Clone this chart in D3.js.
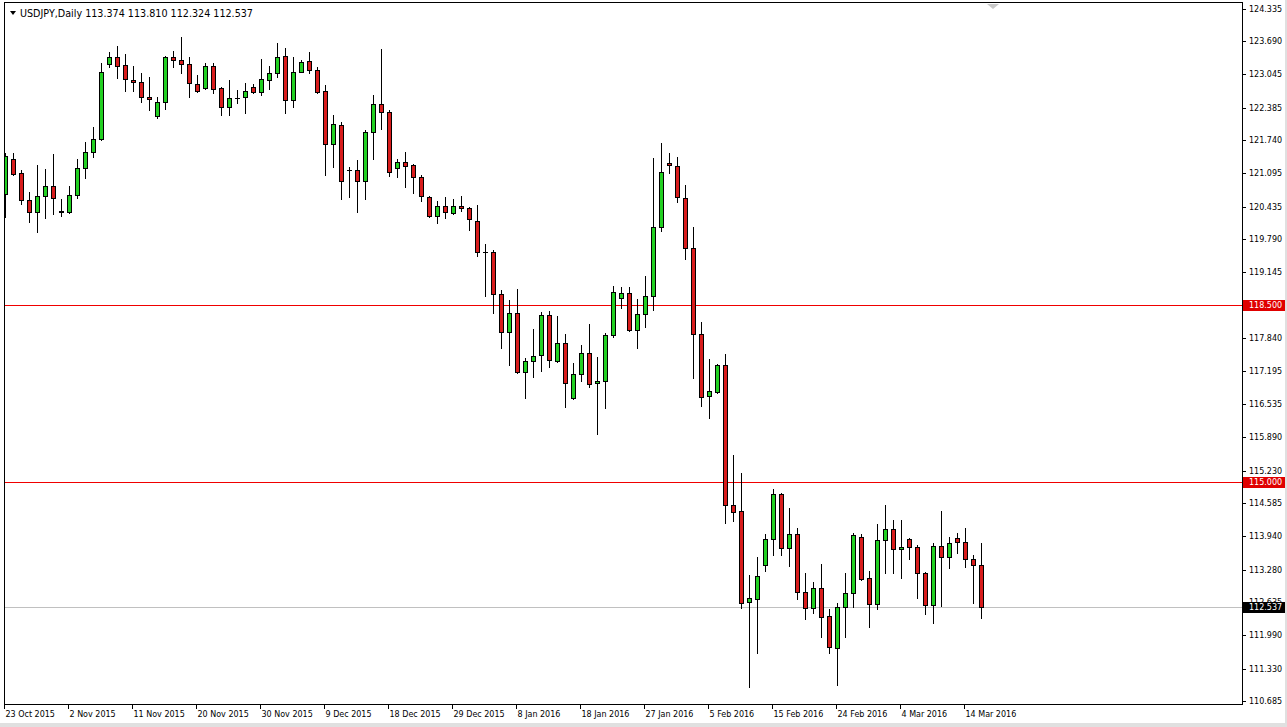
<!DOCTYPE html>
<html><head><meta charset="utf-8">
<script src="https://cdn.jsdelivr.net/npm/d3@7/dist/d3.min.js"></script>
<style>html,body{margin:0;padding:0;background:#fff;overflow:hidden}</style>
</head><body><svg id="c" width="1287" height="727"></svg>
<script>
const symbolTitle = "USDJPY,Daily";
const opens = [120.682,121.366,121.090,120.558,120.333,120.637,120.839,120.347,120.333,120.656,
121.188,121.504,121.760,123.237,123.375,123.224,122.928,122.883,122.593,122.213,
122.489,123.375,123.316,123.243,122.849,122.765,123.204,122.771,122.402,122.580,
122.587,122.790,122.698,122.934,123.060,123.401,122.540,123.092,123.303,123.125,
122.711,121.661,122.036,121.152,121.149,120.932,121.898,122.449,122.298,121.188,
121.306,121.247,121.017,120.623,120.254,120.445,120.313,120.445,120.400,120.144,
119.533,119.533,118.711,117.957,118.337,117.180,117.385,117.504,118.292,117.385,
117.740,116.656,117.129,117.543,116.952,116.997,117.898,118.627,118.725,117.996,
118.317,118.672,120.026,121.287,121.234,120.597,119.612,117.917,116.696,116.775,
117.307,114.548,114.430,112.637,112.696,113.366,113.878,114.765,113.700,113.982,
112.833,112.518,112.912,112.367,111.730,112.538,112.814,113.917,113.110,112.597,
113.858,114.075,113.681,113.878,113.721,113.220,112.578,113.746,113.523,113.898,
113.819,113.484,113.374];
const highs = [121.490,121.484,121.155,120.727,121.253,121.174,121.470,120.577,120.839,121.366,
121.712,121.996,123.257,123.474,123.598,123.435,123.204,123.060,122.981,122.599,
123.401,123.500,123.769,123.375,123.027,123.257,123.257,122.785,122.928,122.731,
122.875,122.843,123.342,123.204,123.651,123.553,123.375,123.322,123.480,123.178,
122.830,122.238,122.095,121.208,121.352,121.943,122.633,123.533,122.337,121.372,
121.504,121.273,121.056,120.642,120.538,120.629,120.577,120.642,120.432,120.465,
119.691,119.578,118.790,118.593,118.810,117.444,118.022,118.357,118.377,118.278,
117.923,117.358,117.707,118.120,117.464,117.949,118.869,118.855,118.843,118.607,
119.072,121.385,121.693,121.484,121.405,120.859,120.038,118.154,117.431,117.330,
117.529,115.539,115.178,113.175,113.523,113.982,114.869,114.784,114.501,114.095,
113.208,113.031,113.391,112.498,112.617,113.208,113.996,113.977,113.253,114.179,
114.554,114.258,114.258,113.898,113.766,113.240,113.799,114.442,113.917,114.008,
114.101,113.569,113.810];
const lows = [120.229,121.050,120.479,120.136,119.939,120.203,120.282,120.248,120.302,120.597,
120.991,121.417,121.740,123.178,122.962,122.717,122.717,122.501,122.337,122.173,
122.363,123.178,123.072,122.599,122.692,122.751,122.666,122.238,122.238,122.481,
122.284,122.678,122.627,122.751,122.993,122.284,122.402,123.080,123.060,122.670,
121.056,121.220,120.577,120.617,120.333,120.577,121.366,121.957,121.042,121.023,
120.826,120.707,120.550,120.235,120.116,120.203,120.288,120.347,119.972,119.454,
118.678,118.331,117.653,117.312,117.160,116.656,117.082,117.200,117.279,117.370,
116.491,116.640,117.003,116.873,115.953,116.459,117.858,118.430,117.980,117.642,
118.067,118.396,119.959,121.090,120.518,119.395,117.050,116.505,116.262,116.760,
114.193,114.245,112.518,110.962,111.632,113.259,113.569,113.569,113.358,112.696,
112.302,112.420,111.959,111.632,111.007,111.959,112.550,113.076,112.144,112.498,
113.208,113.208,113.110,113.484,112.727,112.400,112.223,112.561,113.318,113.614,
113.338,112.617,112.324];
const closes = [121.431,121.070,120.558,120.333,120.642,120.839,120.597,120.327,120.662,121.188,
121.504,121.760,123.080,123.375,123.210,122.942,122.883,122.587,122.548,122.489,
123.375,123.316,123.237,122.863,122.717,123.204,122.757,122.402,122.568,122.580,
122.711,122.698,122.942,123.072,123.375,122.540,123.086,123.277,123.119,122.686,
121.661,122.055,120.932,121.152,120.932,121.898,122.449,122.292,121.109,121.306,
121.239,121.011,120.637,120.254,120.445,120.333,120.439,120.400,120.195,119.533,
119.533,118.705,117.957,118.331,117.180,117.391,117.484,118.292,117.405,117.740,
116.952,117.129,117.543,116.932,116.997,117.898,118.745,118.725,117.996,118.317,
118.672,120.026,121.109,121.247,120.617,119.612,117.917,116.688,116.810,117.307,
114.548,114.422,112.617,112.715,113.161,113.878,114.765,113.700,113.982,112.833,
112.518,112.912,112.353,111.750,112.538,112.814,113.957,113.096,112.597,113.858,
114.075,113.681,113.721,113.732,113.208,112.578,113.746,113.523,113.799,113.830,
113.484,113.374,112.537];
const priceTicks = [124.335,123.690,123.045,122.385,121.740,121.095,120.435,119.790,119.145,
117.840,117.195,116.535,115.890,115.230,114.585,113.940,113.280,112.635,111.990,111.330,110.685];
const dateLabels = ["23 Oct 2015","2 Nov 2015","11 Nov 2015","20 Nov 2015","30 Nov 2015","9 Dec 2015",
"18 Dec 2015","29 Dec 2015","8 Jan 2016","18 Jan 2016","27 Jan 2016","5 Feb 2016","15 Feb 2016",
"24 Feb 2016","4 Mar 2016","14 Mar 2016"];
const dateLabelBars = [0,8,16,24,32,40,48,56,64,72,80,88,96,104,112,120];
const levelLines = [118.500, 115.000];
const lastBid = 112.537;

const W = 1287, H = 727;
const plotL = 4, plotR = 1242, plotT = 2, plotB = 704;
const svg = d3.select("#c");
const FONT = "DejaVu Sans, Verdana, sans-serif";

svg.append("rect").attr("x",0).attr("y",0).attr("width",W).attr("height",H).attr("fill","#fff");

const n = opens.length;
const x = d3.scaleLinear().domain([0, 122]).range([5, 981]);
const y = d3.scaleLinear().domain([110.685, 124.335]).range([701.35, 8.6]);

// frame
const g = svg.append("g").attr("shape-rendering","crispEdges");
g.append("line").attr("x1",plotL).attr("x2",plotR+1).attr("y1",plotT+0.5).attr("y2",plotT+0.5).attr("stroke","#000");
g.append("line").attr("x1",plotR+0.5).attr("x2",plotR+0.5).attr("y1",plotT).attr("y2",plotB+1).attr("stroke","#000");
g.append("line").attr("x1",plotL).attr("x2",plotR+1).attr("y1",plotB+0.5).attr("y2",plotB+0.5).attr("stroke","#000");

// level lines
levelLines.forEach(v => {
  const yy = Math.round(y(v)) + 0.5;
  g.append("line").attr("x1",plotL+1).attr("x2",plotR).attr("y1",yy).attr("y2",yy).attr("stroke","#f00000");
});
{
  const yy = Math.round(y(lastBid)) + 0.5;
  g.append("line").attr("x1",plotL+1).attr("x2",plotR).attr("y1",yy).attr("y2",yy).attr("stroke","#c0c0c0");
}

// candles
const cg = svg.append("g").attr("shape-rendering","crispEdges");
for (let i = 0; i < n; i++) {
  const cx = Math.round(x(i));
  const o = opens[i], c = closes[i];
  const yh = Math.round(y(highs[i])), yl = Math.round(y(lows[i]));
  cg.append("line").attr("x1",cx+0.5).attr("x2",cx+0.5).attr("y1",yh).attr("y2",yl+1).attr("stroke","#000");
  const yt = Math.round(y(Math.max(o,c))), yb = Math.round(y(Math.min(o,c)));
  if (yb - yt < 1) {
    cg.append("line").attr("x1",cx-2).attr("x2",cx+3).attr("y1",yt+0.5).attr("y2",yt+0.5).attr("stroke","#000");
  } else {
    cg.append("rect").attr("x",cx-1.5).attr("y",yt+0.5).attr("width",4).attr("height",yb-yt)
      .attr("fill", c > o ? "#22d022" : "#d81c1c").attr("stroke","#000");
  }
}
// clip first candle at left border
svg.append("rect").attr("x",0).attr("y",0).attr("width",plotL).attr("height",H).attr("fill","#fff");
svg.append("line").attr("x1",plotL+0.5).attr("x2",plotL+0.5).attr("y1",plotT).attr("y2",plotB+1)
  .attr("stroke","#000").attr("shape-rendering","crispEdges");

// price axis
const ag = svg.append("g");
priceTicks.forEach(v => {
  const yy = Math.round(y(v)) + 0.5;
  ag.append("line").attr("x1",plotR+1).attr("x2",plotR+4).attr("y1",yy).attr("y2",yy).attr("stroke","#000").attr("shape-rendering","crispEdges");
  ag.append("text").attr("x",plotR+7).attr("y",yy).attr("dy","0.35em").attr("font-family",FONT)
    .attr("font-size",8).attr("fill","#000").text(d3.format(".3f")(v));
});
function tag(v, bg) {
  const yy = Math.round(y(v));
  ag.append("rect").attr("x",plotR+1).attr("y",yy-5).attr("width",42).attr("height",11).attr("fill",bg);
  ag.append("text").attr("x",plotR+7).attr("y",yy+0.5).attr("dy","0.35em").attr("font-family",FONT)
    .attr("font-size",8).attr("fill","#fff").text(d3.format(".3f")(v));
}
levelLines.forEach(v => tag(v, "#e00000"));
tag(lastBid, "#000");

// date axis
dateLabels.forEach((lab, k) => {
  const xx = Math.round(x(dateLabelBars[k])) - 0.5;
  ag.append("line").attr("x1",xx).attr("x2",xx).attr("y1",plotB+1).attr("y2",plotB+5).attr("stroke","#000").attr("shape-rendering","crispEdges");
  ag.append("text").attr("x",xx+1).attr("y",717).attr("font-family",FONT).attr("font-size",8).attr("fill","#000").text(lab);
});

// header
svg.append("path").attr("d","M10,11 L16,11 L13,15 Z").attr("fill","#000");
svg.append("text").attr("x",20).attr("y",17).attr("font-family",FONT).attr("font-size",9.6).attr("fill","#000")
  .text(symbolTitle + "  " + [opens[n-1],highs[n-1],lows[n-1],closes[n-1]].map(d3.format(".3f")).join(" "));

// shift marker
svg.append("path").attr("d","M987,4 L999,4 L993,9 Z").attr("fill","#c8c8c8");

// window edges
svg.append("rect").attr("x",1285).attr("y",0).attr("width",2).attr("height",H).attr("fill","#e0e0e0");
svg.append("rect").attr("x",0).attr("y",723).attr("width",W).attr("height",4).attr("fill","#e0e0e0");
</script></body></html>
